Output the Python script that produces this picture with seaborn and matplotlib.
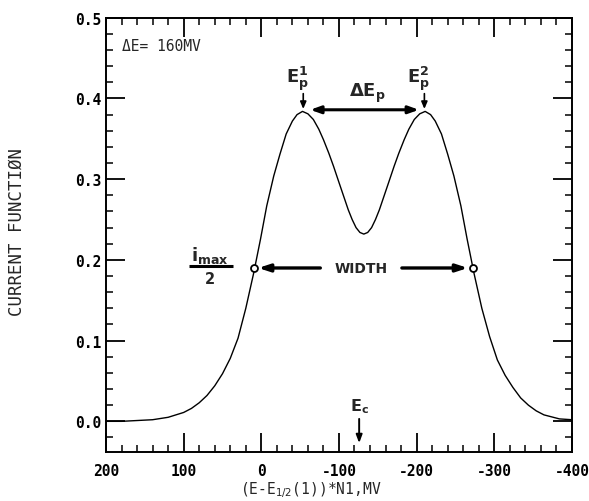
import matplotlib
matplotlib.use("Agg")
import matplotlib.pyplot as plt
import seaborn as sns
import pandas as pd
from matplotlib.ticker import MultipleLocator, FuncFormatter

# ---- data ----
potential = [200, 180, 160, 140, 120, 100, 90, 80, 70, 60, 50, 40, 30, 20, 10,
             1, -7, -16, -24, -32, -40, -46, -53, -60, -67, -74, -80, -87, -93,
             -100, -106, -112, -117, -122, -127, -132,
             -137, -142, -147, -152, -158, -164, -171, -177, -184, -190, -197,
             -204, -211, -218, -224, -232, -240, -248, -257, -265, -274, -284,
             -294, -304, -314, -324, -334, -344, -354, -364, -384, -400]
current = [0.000, 0.000, 0.001, 0.002, 0.005, 0.011, 0.016, 0.023, 0.032, 0.044,
           0.059, 0.078, 0.103, 0.140, 0.183,
           0.226, 0.267, 0.304, 0.331, 0.356, 0.372, 0.380, 0.384, 0.381, 0.374,
           0.362, 0.349, 0.332, 0.316,
           0.296, 0.279, 0.262, 0.250, 0.240, 0.234, 0.232,
           0.234, 0.240, 0.250, 0.262, 0.279, 0.296, 0.316, 0.332, 0.349, 0.362,
           0.374, 0.381, 0.384, 0.380, 0.372, 0.356, 0.331, 0.304, 0.267, 0.226,
           0.183, 0.140, 0.105, 0.076, 0.057, 0.042, 0.029, 0.020, 0.013, 0.008,
           0.003, 0.002]
half_max_x = [9, -273]
half_max_y = [0.190, 0.190]
x_ticks = [200, 100, 0, -100, -200, -300, -400]
y_ticks = [0.0, 0.1, 0.2, 0.3, 0.4, 0.5]

df = pd.DataFrame({"E": potential, "I": current})

sns.set_theme(style="ticks")
plt.rcParams["font.family"] = ["DejaVu Sans Mono", "DejaVu Sans"]

fig = plt.figure(figsize=(5.89, 5.02), dpi=100)
ax = fig.add_axes([0.18, 0.0976, 0.791, 0.865])

sns.lineplot(data=df, x="E", y="I", sort=False, estimator=None,
             color="black", linewidth=1.0, ax=ax)
ax.plot(half_max_x, half_max_y, linestyle="none", marker="o", markersize=5,
        markerfacecolor="white", markeredgecolor="black", markeredgewidth=1.3,
        zorder=5)

ax.set_xlim(200, -400)
ax.set_ylim(-0.038, 0.5)
ax.set_xticks(x_ticks)
ax.set_yticks(y_ticks)
ax.xaxis.set_minor_locator(MultipleLocator(20))
ax.yaxis.set_minor_locator(MultipleLocator(0.02))
ax.xaxis.set_major_formatter(FuncFormatter(lambda v, p: f"{int(round(v))}"))
ax.yaxis.set_major_formatter(FuncFormatter(lambda v, p: f"{v:.1f}"))

ax.tick_params(which="both", direction="in", top=True, right=True,
               color="black", labelcolor="black")
ax.tick_params(which="major", length=14, width=1.3, labelsize=10.5)
ax.tick_params(which="minor", length=5, width=1.1)
ax.tick_params(axis="y", which="major", pad=3)
ax.tick_params(axis="x", which="major", pad=8)
for lab in ax.get_xticklabels() + ax.get_yticklabels():
    lab.set_fontweight("bold")
for s in ax.spines.values():
    s.set_linewidth(1.4)
    s.set_color("black")

ax.set_xlabel(r"(E-E$_{1/2}$(1))*N1,MV", fontsize=10.5)
ax.set_ylabel("CURRENT FUNCTIØN", fontsize=12.5)
ax.xaxis.set_label_coords(0.44, -0.062)
ax.yaxis.set_label_coords(-0.172, 0.51)

# ---- annotations ----
ax.text(179, 0.466, "ΔE= 160MV", fontsize=10.5, ha="left", va="center")

bold_kw = dict(fontsize=13, ha="center", va="center", family="DejaVu Sans")
ax.text(-47, 0.425, r"$\mathbf{E_p^1}$", **bold_kw)
ax.text(-202, 0.425, r"$\mathbf{E_p^2}$", **bold_kw)
ax.text(-136, 0.408, r"$\mathbf{\Delta E_p}$", **bold_kw)

small_arrow = dict(arrowstyle="-|>,head_length=0.35,head_width=0.15",
                   color="black", lw=1.2, shrinkA=0, shrinkB=0)
ax.annotate("", xy=(-54, 0.387), xytext=(-54, 0.406), arrowprops=small_arrow)
ax.annotate("", xy=(-210, 0.387), xytext=(-210, 0.406), arrowprops=small_arrow)

dbl = dict(arrowstyle="<|-|>,head_length=0.5,head_width=0.18",
           color="black", lw=2.2, shrinkA=0, shrinkB=0)
ax.annotate("", xy=(-63, 0.386), xytext=(-203, 0.386), arrowprops=dbl)

one = dict(arrowstyle="-|>,head_length=0.55,head_width=0.18",
           color="black", lw=2.4, shrinkA=0, shrinkB=0)
ax.annotate("", xy=(4, 0.190), xytext=(-76, 0.190), arrowprops=one)
ax.annotate("", xy=(-266, 0.190), xytext=(-181, 0.190), arrowprops=one)
ax.text(-128, 0.190, "WIDTH", fontsize=10, fontweight="bold",
        family="DejaVu Sans", ha="center", va="center")

ax.text(66, 0.207, r"$\mathbf{i_{max}}$", fontsize=13, ha="center",
        va="center", family="DejaVu Sans")
ax.plot([93, 36], [0.192, 0.192], color="black", lw=2.2,
        solid_capstyle="butt")
ax.text(66, 0.177, "2", fontsize=10.5, fontweight="bold", ha="center",
        va="center", family="DejaVu Sans")

ax.text(-126, 0.020, r"$\mathbf{E_c}$", fontsize=11.5, ha="center",
        va="center", family="DejaVu Sans")
ax.annotate("", xy=(-126, -0.027), xytext=(-126, 0.003),
            arrowprops=dict(arrowstyle="-|>,head_length=0.4,head_width=0.15",
                            color="black", lw=1.4, shrinkA=0, shrinkB=0))

fig.savefig("out.png", dpi=100)
